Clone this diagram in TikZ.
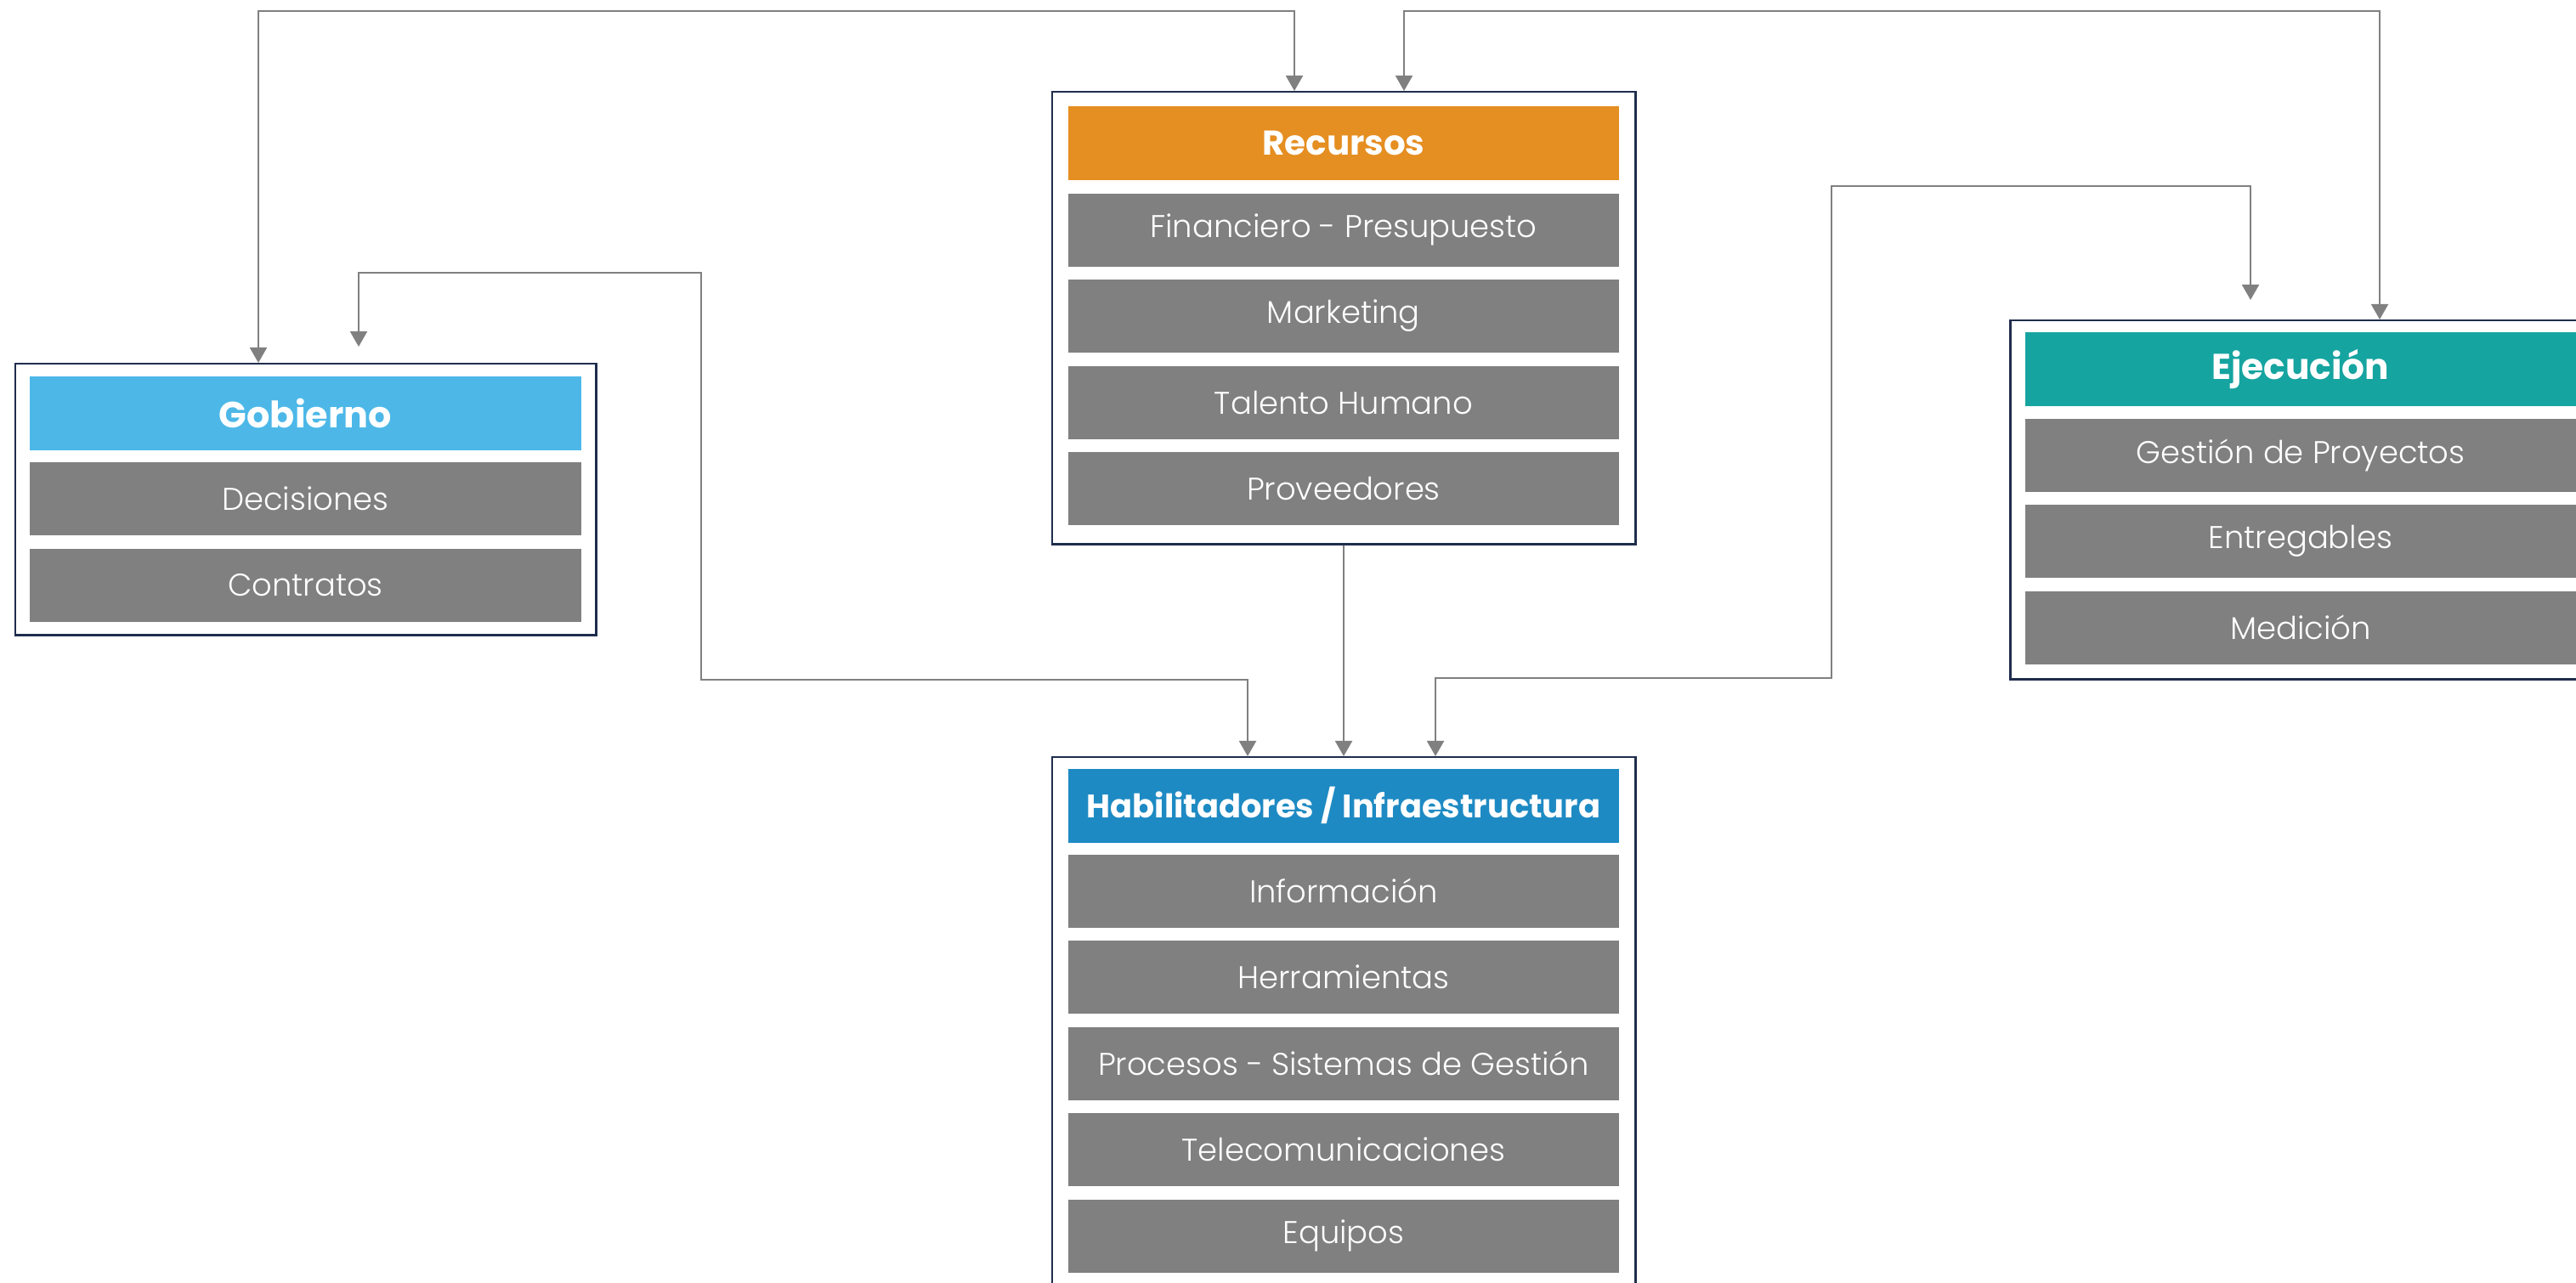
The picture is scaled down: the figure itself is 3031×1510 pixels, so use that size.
\documentclass[tikz,border=0pt]{standalone}
\usepackage{fontspec}
\setmainfont{Poppins}[UprightFont=* Light, BoldFont=* Bold]
\usetikzlibrary{arrows.meta}
\definecolor{navy}{RGB}{31,45,77}
\definecolor{rowgray}{RGB}{128,128,128}
\definecolor{conngray}{RGB}{128,128,128}
\definecolor{hdorange}{RGB}{229,142,33}
\definecolor{hdsky}{RGB}{77,184,232}
\definecolor{hdteal}{RGB}{22,164,160}
\definecolor{hdblue}{RGB}{30,138,195}
\tikzset{
  outerbox/.style={draw=navy, line width=0.7pt, fill=white, anchor=north west, inner sep=0pt, minimum width=6.86cm},
  hdbox/.style={fill=#1, text=white, anchor=north west, inner sep=0pt, minimum width=6.48cm, minimum height=0.87cm, font=\bfseries\fontsize{11.5}{13}\selectfont},
  rowbox/.style={fill=rowgray, text=white, anchor=north west, inner sep=0pt, minimum width=6.48cm, minimum height=0.86cm, font=\fontsize{10.5}{12}\selectfont},
  conn/.style={draw=conngray, line width=0.6pt},
  tip/.tip={Triangle[width=0.2cm,length=0.18cm]},
}
\begin{document}
\begin{tikzpicture}[x=0.01cm,y=-0.01cm]
\useasboundingbox (0,0) rectangle (3031,1510);
\clip (0,0) rectangle (3031,1510);
% Recursos
\node[outerbox, minimum height=5.32cm] (rec) at (1237,107) {};
\node[hdbox=hdorange] (recH) at (1256,124) {Recursos};
\node[rowbox] (rec1) at (1256,227) {Financiero - Presupuesto};
\node[rowbox] (rec2) at (1256,328) {Marketing};
\node[rowbox] (rec3) at (1256,430) {Talento Humano};
\node[rowbox] (rec4) at (1256,531) {Proveedores};
% Gobierno
\node[outerbox, minimum width=6.83cm, minimum height=3.19cm] (gob) at (17,427) {};
\node[hdbox=hdsky, minimum width=6.49cm, font=\bfseries\fontsize{12.2}{14}\selectfont] (gobH) at (34,442) {Gobierno};
\node[rowbox, minimum width=6.49cm] (gob1) at (34,543) {Decisiones};
\node[rowbox, minimum width=6.49cm] (gob2) at (34,645) {Contratos};
% Ejecucion
\node[outerbox, minimum height=4.22cm] (eje) at (2364,376) {};
\node[hdbox=hdteal, font=\bfseries\fontsize{12}{14}\selectfont] (ejeH) at (2382,390) {Ejecución};
\node[rowbox] (eje1) at (2382,492) {Gestión de Proyectos};
\node[rowbox] (eje2) at (2382,593) {Entregables};
\node[rowbox] (eje3) at (2382,695) {Medición};
% Habilitadores
\node[outerbox, minimum height=6.40cm] (hab) at (1237,890) {};
\node[hdbox=hdblue, font=\bfseries\fontsize{10.9}{12}\selectfont] (habH) at (1256,904) {Habilitadores / Infraestructura};
\node[rowbox] (hab1) at (1256,1005) {Información};
\node[rowbox] (hab2) at (1256,1106) {Herramientas};
\node[rowbox] (hab3) at (1256,1208) {Procesos - Sistemas de Gestión};
\node[rowbox] (hab4) at (1256,1309) {Telecomunicaciones};
\node[rowbox] (hab5) at (1256,1411) {Equipos};
% free ends
\coordinate (gobIn) at (422,408);
\coordinate (ejeIn) at (2648,353);
% connectors
\draw[conn, {tip}-{tip}] (gob.north -| 304,0) -- (304,13) -- (1523,13) -- (rec.north -| 1523,0);
\draw[conn, {tip}-{tip}] (rec.north -| 1652,0) -- (1652,13) -- (2800,13) -- (eje.north -| 2800,0);
\draw[conn, {tip}-{tip}] (gobIn) -- (422,321) -- (825,321) -- (825,800) -- (1468,800) -- (hab.north -| 1468,0);
\draw[conn, -{tip}] (rec.south -| 1581,0) -- (hab.north -| 1581,0);
\draw[conn, {tip}-{tip}] (hab.north -| 1689,0) -- (1689,798) -- (2155,798) -- (2155,219) -- (2648,219) -- (ejeIn);
\end{tikzpicture}
\end{document}
